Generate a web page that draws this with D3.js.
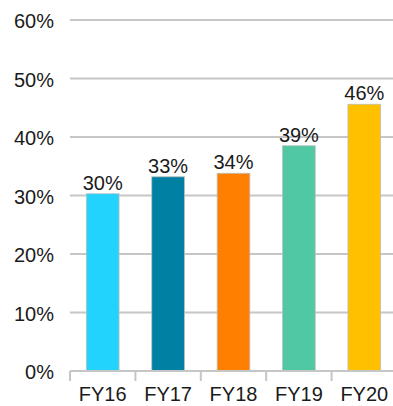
<!DOCTYPE html>
<html>
<head>
<meta charset="utf-8">
<script src="https://cdn.jsdelivr.net/npm/d3@7"></script>
<style>
  html, body { margin: 0; padding: 0; background: #fff; }
  svg { display: block; }
  text { font-family: "Liberation Sans", Arial, sans-serif; fill: #1a1a1a; }
</style>
</head>
<body>
<svg id="chart" width="393" height="406"></svg>
<script>
const categories = ["FY16", "FY17", "FY18", "FY19", "FY20"];
const values = [30.3, 33.2, 33.8, 38.5, 45.6];
const labels = ["30%", "33%", "34%", "39%", "46%"];
const colors = ["#22d3fd", "#0080a3", "#ff8000", "#50c8a3", "#ffc000"];
const yTicks = [0, 10, 20, 30, 40, 50, 60];

const svg = d3.select("#chart");
const plotLeft = 70, plotRight = 397, plotTop = 20, plotBottom = 371;
const fontSize = 20;

const x = d3.scaleBand().domain(categories).range([plotLeft, plotRight]).paddingInner(0.5).paddingOuter(0.25);
const y = d3.scaleLinear().domain([0, 60]).range([plotBottom, plotTop]);

// horizontal gridlines
svg.append("g").selectAll("line").data(yTicks.slice(1)).join("line")
  .attr("x1", plotLeft).attr("x2", 393)
  .attr("y1", d => y(d)).attr("y2", d => y(d))
  .attr("stroke", "#c6c6c6").attr("stroke-width", 2);

// y-axis labels
svg.append("g").selectAll("text").data(yTicks).join("text")
  .attr("x", 54).attr("y", d => y(d) + 8)
  .attr("text-anchor", "end").attr("font-size", fontSize)
  .text(d => d + "%");

// bars
svg.append("g").selectAll("rect").data(categories).join("rect")
  .attr("x", d => x(d)).attr("width", x.bandwidth())
  .attr("y", (d, i) => y(values[i])).attr("height", (d, i) => y(0) - y(values[i]))
  .attr("fill", (d, i) => colors[i])
  .attr("stroke", "#bdbdbd").attr("stroke-width", 0.8);

// value labels
svg.append("g").selectAll("text").data(categories).join("text")
  .attr("x", d => x(d) + x.bandwidth() / 2)
  .attr("y", (d, i) => y(values[i]) - 4)
  .attr("text-anchor", "middle").attr("font-size", fontSize)
  .text((d, i) => labels[i]);

// x axis baseline and category separators
const step = x.step();
const edges = d3.range(categories.length + 1).map(i => plotLeft + i * step);
svg.append("line").attr("x1", plotLeft).attr("x2", 393).attr("y1", plotBottom).attr("y2", plotBottom)
  .attr("stroke", "#c6c6c6").attr("stroke-width", 2);
svg.append("g").selectAll("line").data(edges).join("line")
  .attr("x1", d => d).attr("x2", d => d).attr("y1", plotBottom).attr("y2", plotBottom + 10)
  .attr("stroke", "#c6c6c6").attr("stroke-width", 2);

// category labels
svg.append("g").selectAll("text").data(categories).join("text")
  .attr("x", d => x(d) + x.bandwidth() / 2).attr("y", 401)
  .attr("text-anchor", "middle").attr("font-size", fontSize)
  .text(d => d);
</script>
</body>
</html>
